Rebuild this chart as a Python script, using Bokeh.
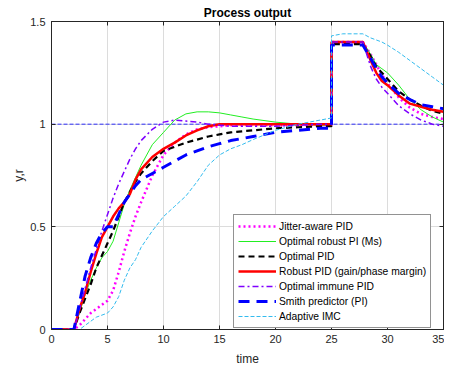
from bokeh.plotting import figure
from bokeh.models import Legend, LegendItem, LinearAxis, Range1d, FixedTicker, CustomJSTickFormatter
from bokeh.embed import file_html
from bokeh.resources import INLINE

# time grid (25 appears twice for the step)
t = [0, 2, 2.5, 3, 3.5, 4, 4.5, 5, 5.5, 6, 6.5, 7, 7.5, 8, 9, 10, 11, 12, 13, 14, 15,
     16, 17, 18, 20, 22, 24, 25, 25, 26, 27, 27.8, 28.5, 29, 29.5, 30, 31, 32, 33, 34, 35]

jitter_pid = [0, 0, 0.02, 0.05, 0.08, 0.10, 0.12, 0.14, 0.19, 0.28, 0.38, 0.47, 0.55, 0.62, 0.75, 0.85,
              0.91, 0.95, 0.975, 0.985, 0.99, 0.995, 0.995, 0.995, 0.995, 0.995, 0.995, 0.995,
              1.40, 1.40, 1.40, 1.40, 1.34, 1.29, 1.24, 1.20, 1.13, 1.08, 1.05, 1.035, 1.025]
robust_pi_ms = [0, 0, 0.08, 0.17, 0.24, 0.30, 0.35, 0.38, 0.43, 0.52, 0.61, 0.68, 0.74, 0.80, 0.90, 0.96,
                1.02, 1.05, 1.06, 1.06, 1.055, 1.045, 1.035, 1.025, 1.01, 1.0, 0.995, 0.995,
                1.40, 1.40, 1.40, 1.40, 1.34, 1.29, 1.27, 1.25, 1.19, 1.12, 1.07, 1.035, 1.01]
optimal_pid = [0, 0, 0.08, 0.15, 0.22, 0.30, 0.36, 0.42, 0.48, 0.55, 0.62, 0.67, 0.72, 0.76, 0.82, 0.87,
               0.89, 0.91, 0.925, 0.94, 0.95, 0.96, 0.965, 0.97, 0.98, 0.985, 0.99, 0.99,
               1.39, 1.39, 1.39, 1.39, 1.33, 1.28, 1.25, 1.22, 1.16, 1.12, 1.09, 1.065, 1.05]
robust_pid_gpm = [0, 0, 0.10, 0.18, 0.28, 0.37, 0.45, 0.50, 0.55, 0.59, 0.62, 0.66, 0.73, 0.78, 0.84, 0.88,
                  0.91, 0.945, 0.97, 0.99, 1.0, 1.0, 1.0, 1.0, 1.0, 1.0, 1.0, 1.0,
                  1.40, 1.40, 1.40, 1.40, 1.31, 1.25, 1.21, 1.19, 1.14, 1.10, 1.085, 1.07, 1.06]
immune_pid = [0, 0, 0.10, 0.20, 0.30, 0.39, 0.48, 0.56, 0.64, 0.71, 0.77, 0.83, 0.88, 0.92, 0.975, 1.01,
              1.02, 1.015, 1.01, 1.0, 0.995, 0.99, 0.99, 0.99, 0.99, 0.995, 1.0, 1.0,
              1.40, 1.40, 1.40, 1.40, 1.28, 1.22, 1.18, 1.15, 1.09, 1.05, 1.02, 1.0, 0.99]
smith_pi = [0, 0, 0.13, 0.26, 0.35, 0.42, 0.47, 0.50, 0.50, 0.56, 0.62, 0.66, 0.70, 0.73, 0.76, 0.79,
            0.82, 0.85, 0.87, 0.89, 0.905, 0.92, 0.93, 0.94, 0.96, 0.97, 0.98, 0.98,
            1.385, 1.385, 1.385, 1.385, 1.32, 1.27, 1.23, 1.20, 1.15, 1.12, 1.095, 1.085, 1.075]
adaptive_imc = [0, 0, 0.0, 0.02, 0.04, 0.06, 0.07, 0.08, 0.11, 0.16, 0.24, 0.30, 0.34, 0.40, 0.48, 0.55,
                0.60, 0.65, 0.72, 0.80, 0.85, 0.88, 0.90, 0.925, 0.97, 1.0, 1.02, 1.03,
                1.43, 1.44, 1.44, 1.44, 1.42, 1.41, 1.40, 1.385, 1.35, 1.31, 1.27, 1.23, 1.19]

ref_t = [0, 35]
ref_r = [1, 1]

x_ticks = [0, 5, 10, 15, 20, 25, 30, 35]
y_ticks = [0, 0.5, 1, 1.5]

FONT = "Liberation Sans"
AX = "#262626"

p = figure(frame_width=392, frame_height=308,
           x_range=Range1d(0, 35), y_range=Range1d(0, 1.5),
           output_backend="svg", toolbar_location=None,
           min_border_left=51, min_border_right=1, min_border_top=21, min_border_bottom=34,
           title="Process output")
p.title.align = "center"
p.title.text_font = FONT
p.title.text_font_size = "12px"
p.title.text_font_style = "bold"
p.title.text_color = "black"
p.title.standoff = 4
p.title.offset = 0

p.outline_line_color = AX
p.outline_line_width = 1

for ax in [p.xaxis[0], p.yaxis[0]]:
    ax.major_tick_in = 4
    ax.major_tick_out = 0
    ax.minor_tick_in = 0
    ax.minor_tick_out = 0
    ax.axis_line_color = AX
    ax.major_tick_line_color = AX
    ax.major_label_text_font = FONT
    ax.major_label_text_font_size = "11px"
    ax.major_label_text_color = AX
    ax.axis_label_text_font = FONT
    ax.axis_label_text_font_size = "12px"
    ax.axis_label_text_font_style = "normal"
    ax.axis_label_text_color = AX

p.xaxis[0].ticker = FixedTicker(ticks=x_ticks)
p.yaxis[0].ticker = FixedTicker(ticks=y_ticks)
p.xaxis[0].axis_label = "time"
p.yaxis[0].axis_label = "y,r"
p.xaxis[0].major_label_standoff = 5
p.yaxis[0].major_label_standoff = 6
p.xaxis[0].axis_label_standoff = 6
p.yaxis[0].axis_label_standoff = 1

# box ticks on top and right (no labels)
for loc, tick in [("right", y_ticks), ("above", x_ticks)]:
    a = LinearAxis(ticker=FixedTicker(ticks=tick), major_tick_in=4, major_tick_out=0,
                   minor_tick_in=0, minor_tick_out=0,
                   formatter=CustomJSTickFormatter(code="return ''"),
                   major_label_standoff=0, axis_line_color=AX, major_tick_line_color=AX)
    p.add_layout(a, loc)

p.xgrid.ticker = FixedTicker(ticks=x_ticks)
p.ygrid.ticker = FixedTicker(ticks=y_ticks)
p.grid.grid_line_color = "#dcdcdc"
p.grid.grid_line_width = 1

# reference
p.line(ref_t, ref_r, line_color="#0000ff", line_width=0.8, line_dash="4 2")

r1 = p.line(t, jitter_pid, line_color="#ff00ff", line_width=2.5, line_dash="2 3")
r2 = p.line(t, robust_pi_ms, line_color="#22ee22", line_width=1)
r3 = p.line(t, optimal_pid, line_color="black", line_width=2.2, line_dash="6 4")
r4 = p.line(t, robust_pid_gpm, line_color="#ff0000", line_width=2.5)
r5 = p.line(t, immune_pid, line_color="#7f00ff", line_width=1.5, line_dash="6 3 2 3")
r6 = p.line(t, smith_pi, line_color="#0000ff", line_width=3, line_dash="11 7")
r7 = p.line(t, adaptive_imc, line_color="#33bbee", line_width=1, line_dash="4 2")

items = [
    LegendItem(label="Jitter-aware PID", renderers=[r1]),
    LegendItem(label="Optimal robust PI (Ms)", renderers=[r2]),
    LegendItem(label="Optimal PID", renderers=[r3]),
    LegendItem(label="Robust PID (gain/phase margin)", renderers=[r4]),
    LegendItem(label="Optimal immune PID", renderers=[r5]),
    LegendItem(label="Smith predictor (PI)", renderers=[r6]),
    LegendItem(label="Adaptive IMC", renderers=[r7]),
]
legend = Legend(items=items, location=(182, 1), orientation="vertical",
                label_text_font=FONT, label_text_font_size="10.3px", label_text_color="black",
                glyph_width=38, glyph_height=14, label_height=14, label_standoff=3,
                spacing=1, padding=4, margin=0,
                border_line_color=AX, border_line_width=1,
                background_fill_color="white", background_fill_alpha=1)
p.add_layout(legend, "center")

open("out.html", "w").write(file_html(p, INLINE))
